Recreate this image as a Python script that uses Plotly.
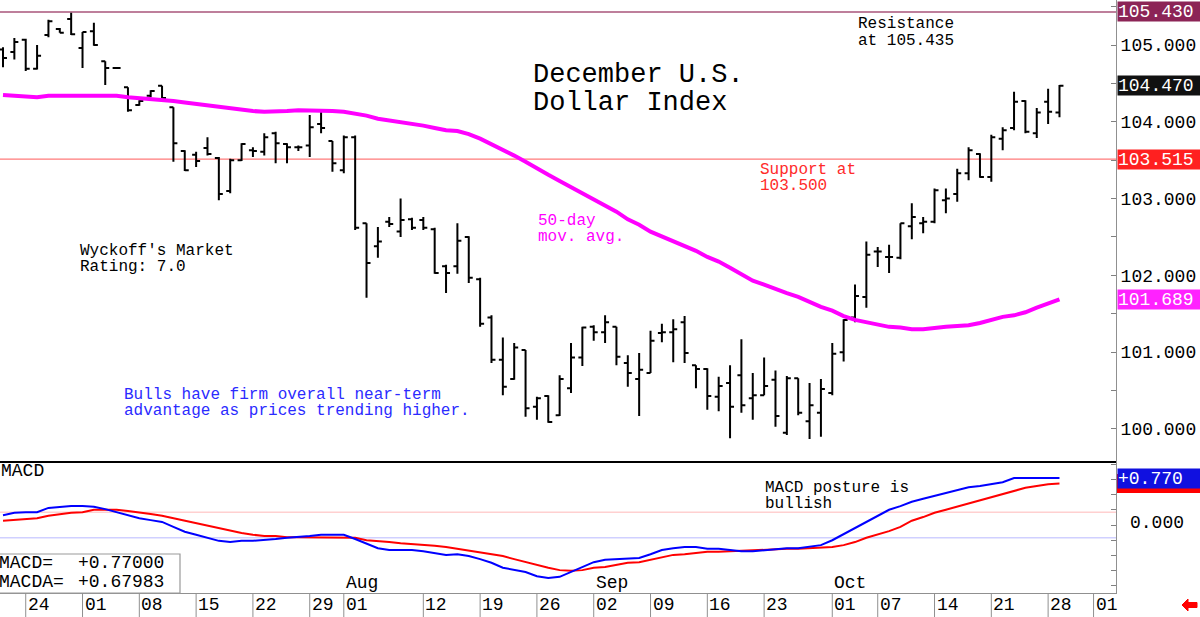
import plotly.graph_objects as go

# ---------------- data ----------------
# bar index 0 = 2024-06-20, one step per weekday, last bar = 2024-10-29
opens = [104.94, 104.91, 105.07, 104.69, 105.13, 105.21, 105.34, 104.96, 105.18, 104.79,
         104.70, 104.45, 104.22, 104.34, 104.47, 104.19, 103.62, 103.57, 103.66, 103.53,
         103.10, 103.50, 103.63, 103.61, 103.85, 103.71, 103.67, 103.69, 103.97, 103.75,
         103.37, 103.80, 102.68, 102.38, 102.70, 102.57, 102.73, 102.72, 102.60, 102.12,
         102.12, 102.50, 101.95, 101.45, 100.90, 100.65, 101.03, 100.29, 100.43, 100.18,
         100.53, 100.93, 101.33, 101.26, 101.33, 100.86, 100.65, 100.73, 101.25, 101.26,
         101.39, 100.83, 100.78, 100.42, 100.60, 100.70, 100.40, 100.44, 100.64, 99.95,
         100.66, 100.10, 100.21, 100.47, 101.00, 101.45, 101.72, 102.31, 102.24, 102.23,
         102.64, 102.68, 102.70, 102.98, 103.06, 103.33, 103.58, 103.28, 103.78, 103.92,
         104.27, 103.85, 104.26, 104.12]
highs = [104.97, 105.09, 105.08, 105.00, 105.33, 105.22, 105.42, 105.17, 105.29, 104.79,
         104.71, 104.45, 104.28, 104.41, 104.47, 104.19, 103.63, 103.61, 103.80, 103.54,
         103.52, 103.72, 103.67, 103.85, 103.87, 103.72, 103.69, 104.09, 104.13, 103.75,
         103.82, 103.82, 102.68, 102.63, 102.76, 103.00, 102.75, 102.76, 102.62, 102.14,
         102.68, 102.51, 101.97, 101.48, 101.19, 101.12, 101.03, 100.42, 100.44, 100.70,
         101.12, 101.33, 101.35, 101.48, 101.33, 100.96, 100.99, 101.28, 101.37, 101.43,
         101.47, 100.83, 100.79, 100.68, 100.83, 101.17, 100.73, 100.93, 100.76, 100.69,
         100.66, 100.60, 100.65, 101.12, 101.43, 101.88, 102.44, 102.37, 102.40, 102.68,
         102.94, 102.76, 103.13, 103.13, 103.39, 103.67, 103.59, 103.83, 103.93, 104.39,
         104.28, 104.18, 104.43, 104.48]
lows = [104.71, 104.81, 104.66, 104.68, 105.10, 105.16, 105.13, 104.70, 104.99, 104.48,
        104.69, 104.13, 104.21, 104.32, 104.31, 103.48, 103.36, 103.41, 103.56, 102.98,
        103.07, 103.49, 103.54, 103.56, 103.46, 103.46, 103.62, 103.54, 103.85, 103.35,
        103.33, 102.59, 101.71, 102.23, 102.63, 102.50, 102.59, 102.59, 102.02, 101.77,
        102.02, 101.90, 101.33, 100.86, 100.44, 100.64, 100.16, 100.12, 100.08, 100.17,
        100.47, 100.82, 101.15, 101.12, 100.83, 100.55, 100.17, 100.73, 101.13, 100.87,
        100.86, 100.53, 100.25, 100.23, 99.88, 100.21, 100.12, 100.44, 100.03, 99.92,
        100.18, 99.87, 99.90, 100.44, 100.88, 101.39, 101.58, 102.11, 102.03, 102.21,
        102.47, 102.55, 102.68, 102.81, 102.96, 103.24, 103.27, 103.22, 103.63, 103.89,
        103.85, 103.79, 103.97, 104.06]
closes = [104.83, 105.04, 104.69, 104.86, 105.31, 105.16, 105.14, 105.17, 105.00, 104.70,
          104.70, 104.15, 104.27, 104.40, 104.31, 103.72, 103.37, 103.49, 103.58, 103.06,
          103.50, 103.71, 103.62, 103.80, 103.72, 103.67, 103.67, 103.93, 103.92, 103.46,
          103.80, 102.62, 102.16, 102.44, 102.67, 102.72, 102.62, 102.62, 102.03, 102.03,
          102.45, 101.97, 101.37, 100.90, 100.55, 101.06, 100.27, 100.40, 100.09, 100.65,
          100.93, 101.32, 101.26, 101.39, 100.94, 100.73, 100.77, 101.15, 101.26, 101.30,
          100.99, 100.78, 100.43, 100.56, 100.29, 100.31, 100.44, 100.56, 100.17, 100.66,
          100.21, 100.31, 100.52, 100.98, 101.42, 101.73, 102.27, 102.31, 102.24, 102.68,
          102.76, 102.70, 103.11, 103.00, 103.33, 103.63, 103.28, 103.80, 103.89, 104.26,
          103.87, 104.12, 104.13, 104.47]
ma50 = [104.35, 104.34, 104.33, 104.32, 104.34, 104.34, 104.34, 104.34, 104.34, 104.34,
        104.34, 104.32, 104.31, 104.30, 104.28, 104.27, 104.25, 104.23, 104.21, 104.19,
        104.17, 104.15, 104.14, 104.13, 104.13, 104.14, 104.15, 104.15, 104.15, 104.14,
        104.13, 104.11, 104.08, 104.04, 104.02, 104.00, 103.97, 103.95, 103.92, 103.89,
        103.88, 103.84, 103.78, 103.71, 103.63, 103.56, 103.48, 103.39, 103.31, 103.23,
        103.15, 103.07, 103.00, 102.92, 102.83, 102.73, 102.66, 102.57, 102.51, 102.45,
        102.38, 102.32, 102.24, 102.18, 102.10, 102.01, 101.93, 101.88, 101.82, 101.77,
        101.72, 101.65, 101.59, 101.54, 101.47, 101.42, 101.39, 101.35, 101.33, 101.32,
        101.30, 101.30, 101.32, 101.33, 101.34, 101.35, 101.38, 101.42, 101.46, 101.48,
        101.52, 101.58, 101.63, 101.689]
macd = [0.16, 0.20, 0.21, 0.21, 0.28, 0.30, 0.31, 0.31, 0.30, 0.26,
        0.21, 0.16, 0.11, 0.08, 0.05, -0.03, -0.11, -0.16, -0.21, -0.26,
        -0.28, -0.26, -0.26, -0.25, -0.23, -0.21, -0.20, -0.18, -0.16, -0.16,
        -0.16, -0.23, -0.31, -0.38, -0.41, -0.41, -0.41, -0.43, -0.46, -0.49,
        -0.48, -0.51, -0.56, -0.62, -0.70, -0.74, -0.77, -0.84, -0.87, -0.85,
        -0.77, -0.69, -0.61, -0.57, -0.56, -0.54, -0.54, -0.48, -0.41, -0.38,
        -0.36, -0.36, -0.39, -0.39, -0.41, -0.43, -0.43, -0.41, -0.39, -0.38,
        -0.38, -0.36, -0.33, -0.25, -0.15, -0.05, 0.05, 0.15, 0.25, 0.31,
        0.38, 0.43, 0.48, 0.52, 0.57, 0.62, 0.64, 0.67, 0.70, 0.77,
        0.77, 0.77, 0.77, 0.77]
macda = [0.07, 0.08, 0.10, 0.11, 0.15, 0.18, 0.20, 0.21, 0.25, 0.25,
         0.25, 0.23, 0.21, 0.18, 0.15, 0.11, 0.07, 0.03, -0.02, -0.05,
         -0.10, -0.13, -0.16, -0.18, -0.18, -0.20, -0.20, -0.20, -0.20, -0.20,
         -0.20, -0.21, -0.25, -0.26, -0.28, -0.30, -0.31, -0.33, -0.34, -0.36,
         -0.39, -0.41, -0.44, -0.48, -0.51, -0.56, -0.61, -0.66, -0.70, -0.74,
         -0.75, -0.74, -0.70, -0.69, -0.66, -0.62, -0.61, -0.57, -0.52, -0.49,
         -0.48, -0.46, -0.44, -0.44, -0.43, -0.43, -0.41, -0.41, -0.39, -0.39,
         -0.39, -0.38, -0.38, -0.36, -0.33, -0.28, -0.21, -0.16, -0.10, -0.03,
         0.07, 0.13, 0.20, 0.25, 0.30, 0.36, 0.41, 0.46, 0.51, 0.56,
         0.61, 0.64, 0.67, 0.68]
bar_idx = list(range(len(closes)))

date_tick_idx = [2, 7, 12, 17, 22, 27, 30, 37, 42, 47, 52, 57, 62, 67, 73, 77, 82, 87, 92, 96]
date_tick_text = ["24", "01", "08", "15", "22", "29", "01", "12", "19", "26",
                  "02", "09", "16", "23", "01", "07", "14", "21", "28", "01"]
month_idx = [30, 52, 73]
month_text = ["Aug", "Sep", "Oct"]
price_ticks = [100, 101, 102, 103, 104, 105]

resistance = 105.43
support = 103.515
last_price = 104.470
last_ma = 101.689
macd_last = 0.77000
macda_last = 0.67983
macd_band = 0.21

# ---------------- layout geometry ----------------
W, H = 1200, 617
MR, MB = 84, 24
PW, PH = W - MR, H - MB          # plot area in px
SPLIT = 462                       # px, boundary between panels


def px(x):
    return x / PW


def py(y):
    return (PH - y) / PH


MONO = "Liberation Mono"
fig = go.Figure()

fig.add_trace(go.Ohlc(
    x=bar_idx, open=opens, high=highs, low=lows, close=closes,
    increasing=dict(line=dict(color="black", width=2)),
    decreasing=dict(line=dict(color="black", width=2)),
    tickwidth=0.35, xaxis="x", yaxis="y", hoverinfo="skip"))
fig.add_trace(go.Scatter(x=bar_idx, y=ma50, mode="lines",
                         line=dict(color="#ff00ff", width=4), xaxis="x", yaxis="y"))
fig.add_trace(go.Scatter(x=bar_idx, y=macda, mode="lines",
                         line=dict(color="#ff0000", width=2), xaxis="x", yaxis="y2"))
fig.add_trace(go.Scatter(x=bar_idx, y=macd, mode="lines",
                         line=dict(color="#0000ff", width=2), xaxis="x", yaxis="y2"))

shapes = []
# resistance / support lines
shapes.append(dict(type="line", xref="paper", x0=0, x1=1, yref="y", y0=resistance, y1=resistance,
                   line=dict(color="#a8557a", width=1.5), layer="below"))
shapes.append(dict(type="line", xref="paper", x0=0, x1=1, yref="y", y0=support, y1=support,
                   line=dict(color="#ff7a7a", width=1.2), layer="below"))
# macd bands
shapes.append(dict(type="line", xref="paper", x0=0, x1=1, yref="y2", y0=macd_band, y1=macd_band,
                   line=dict(color="#ffd0d0", width=1.5), layer="below"))
shapes.append(dict(type="line", xref="paper", x0=0, x1=1, yref="y2", y0=-macd_band, y1=-macd_band,
                   line=dict(color="#d0d0ff", width=1.5), layer="below"))
# panel separator
shapes.append(dict(type="line", xref="paper", x0=0, x1=1, yref="paper", y0=py(SPLIT), y1=py(SPLIT),
                   line=dict(color="black", width=2)))
# macd value box
shapes.append(dict(type="rect", xref="paper", x0=px(-2), x1=px(180), yref="paper",
                   y0=py(593), y1=py(554), line=dict(color="#999999", width=1.2),
                   fillcolor="white"))
# MACDA marker strip on the right scale (mostly hidden behind the MACD box)
shapes.append(dict(type="rect", xref="paper", x0=px(PW + 1), x1=px(W), yref="y2",
                   y0=macda_last - 0.155, y1=macda_last + 0.155,
                   fillcolor="#ff0000", line=dict(width=0)))
# date separators
for i in date_tick_idx:
    shapes.append(dict(type="line", xref="x", x0=i, x1=i, yref="paper", y0=0, y1=py(H),
                       line=dict(color="#909090", width=1)))
# small red arrow bottom-right
ax, ay = 1190, 605
shapes.append(dict(type="path", xref="paper", yref="paper", fillcolor="#ff0000",
                   line=dict(color="#ff0000", width=1),
                   path=(f"M {px(ax-8)} {py(ay)} L {px(ax-2)} {py(ay-6)} L {px(ax-2)} {py(ay-2.5)} "
                         f"L {px(ax+7)} {py(ay-2.5)} L {px(ax+7)} {py(ay+2.5)} L {px(ax-2)} {py(ay+2.5)} "
                         f"L {px(ax-2)} {py(ay+6)} Z")))

ann = []


def txt(text, x, y, color="black", size=16, anchor="left"):
    ann.append(dict(text=text, xref="paper", yref="paper", x=px(x), y=py(y),
                    xanchor=anchor, yanchor="middle", showarrow=False,
                    font=dict(family=MONO, size=size, color=color)))


txt("December U.S.", 531, 75, size=27)
txt("Dollar Index", 531, 103, size=27)
txt("Resistance", 856, 24)
txt("at 105.435", 856, 41)
txt("Support at", 758, 170, color="#ff2a2a")
txt("103.500", 758, 186, color="#ff2a2a")
txt("50-day", 536, 221, color="#ff00ff")
txt("mov. avg.", 536, 237, color="#ff00ff")
txt("Wyckoff's Market", 78, 251)
txt("Rating: 7.0", 78, 267)
txt("Bulls have firm overall near-term", 122, 395, color="#2b2bff")
txt("advantage as prices trending higher.", 122, 411, color="#2b2bff")
txt("MACD posture is", 763, 488)
txt("bullish", 763, 504)
txt("MACD", -1, 471, size=18)
txt("MACD=", -3, 563, size=18)
txt("%+.5f" % macd_last, 76, 563, size=18)
txt("MACDA=", -3, 582, size=18)
txt("%+.5f" % macda_last, 76, 582, size=18)
txt("0.000", 1157, 523, size=18, anchor="center")

# x (date) labels, placed through the x axis scale
for i, t in zip(date_tick_idx, date_tick_text):
    ann.append(dict(text=t, xref="x", x=i, xanchor="left", xshift=0, yref="paper", y=py(605),
                    yanchor="middle", showarrow=False, font=dict(family=MONO, size=18, color="black")))
for i, t in zip(month_idx, month_text):
    ann.append(dict(text=t, xref="x", x=i, xanchor="left", xshift=0, yref="paper", y=py(583),
                    yanchor="middle", showarrow=False, font=dict(family=MONO, size=18, color="black")))


def value_box(val, yref, text, bg, fg="white"):
    ann.append(dict(text=text, xref="paper", x=1, xanchor="left", xshift=1, yref=yref, y=val,
                    yanchor="middle", showarrow=False, bgcolor=bg, width=82, height=19,
                    align="left", borderpad=0,
                    font=dict(family=MONO, size=18, color=fg)))


value_box(resistance, "y", "%.3f" % resistance, "#8c2456")
value_box(last_price, "y", "%.3f" % last_price, "#111111")
value_box(support, "y", "%.3f" % support, "#ff2020")
value_box(last_ma, "y", "%.3f" % last_ma, "#ff22ff")
value_box(macd_last, "y2", "%+.3f" % macd_last, "#1010e0")

x_lo = -3 / 11.36
x_hi = (PW - 3) / 11.36

fig.update_layout(
    width=W, height=H, margin=dict(l=0, r=MR, t=0, b=MB, pad=0),
    paper_bgcolor="white", plot_bgcolor="white", showlegend=False, hovermode=False,
    shapes=shapes, annotations=ann,
    xaxis=dict(domain=[0, 1], range=[x_lo, x_hi], anchor="y2", showgrid=False, zeroline=False,
               showticklabels=False, ticks="", showline=True, linecolor="#909090", linewidth=1,
               rangeslider=dict(visible=False), fixedrange=True),
    yaxis=dict(domain=[py(SPLIT), 1], range=[99.57, 105.586], side="right", anchor="x",
               tickmode="array", tickvals=price_ticks, ticktext=["%.3f" % v for v in price_ticks],
               ticks="inside", ticklen=5, tickcolor="#808080", showgrid=False, zeroline=False,
               showline=True, linecolor="#909090", linewidth=1,
               minor=dict(dtick=0.5, ticks="inside", ticklen=5, tickcolor="#808080"),
               tickfont=dict(family=MONO, size=18, color="black"), fixedrange=True),
    yaxis2=dict(domain=[0, py(SPLIT)], range=[-1.115, 1.033], side="right", anchor="x",
                tickmode="linear", tick0=0, dtick=0.25, showticklabels=False,
                ticks="inside", ticklen=5, tickcolor="#808080", showgrid=False, zeroline=False,
                showline=True, linecolor="#909090", linewidth=1, fixedrange=True),
)

fig.write_html("out.html")
